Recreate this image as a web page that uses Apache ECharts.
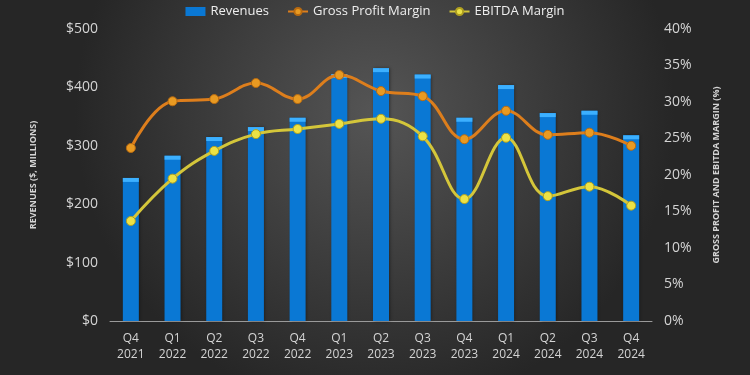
<!DOCTYPE html>
<html>
<head>
<meta charset="utf-8">
<script src="https://cdn.jsdelivr.net/npm/echarts@6/dist/echarts.min.js"></script>
<style>
  html, body { margin: 0; padding: 0; background: #333; }
  #chart { width: 750px; height: 375px; }
</style>
</head>
<body>
<div id="chart"></div>
<script>
const quarters = ['Q4\n2021', 'Q1\n2022', 'Q2\n2022', 'Q3\n2022', 'Q4\n2022', 'Q1\n2023', 'Q2\n2023',
  'Q3\n2023', 'Q4\n2023', 'Q1\n2024', 'Q2\n2024', 'Q3\n2024', 'Q4\n2024'];
const revenues = [245, 283, 315, 332, 348, 423, 433, 422, 348, 404, 356, 360, 318];
const grossMargin = [23.7, 30.1, 30.4, 32.6, 30.4, 33.7, 31.5, 30.8, 24.9, 28.8, 25.5, 25.8, 24.0];
const ebitdaMargin = [13.7, 19.5, 23.3, 25.6, 26.3, 27.0, 27.7, 25.3, 16.7, 25.1, 17.1, 18.4, 15.8];

const chart = echarts.init(document.getElementById('chart'));

const labelColor = '#d4d4d4';

chart.setOption({
  animation: false,
  backgroundColor: {
    type: 'radial', x: 0.5, y: 0.3, r: 0.8,
    colorStops: [
      { offset: 0, color: '#555555' },
      { offset: 1, color: '#262626' }
    ]
  },
  textStyle: { fontFamily: 'Open Sans' },
  legend: {
    top: 0,
    left: 'center',
    itemWidth: 20,
    itemHeight: 9,
    itemGap: 18,
    textStyle: { color: '#eeeeee', fontSize: 13, fontFamily: 'Open Sans' },
    data: [
      { name: 'Revenues', icon: 'rect' },
      'Gross Profit Margin',
      'EBITDA Margin'
    ]
  },
  grid: { left: 110, right: 98, top: 29, bottom: 54 },
  xAxis: {
    type: 'category',
    data: quarters,
    axisLine: { lineStyle: { color: '#9a9a9a', width: 1 } },
    axisTick: { show: false },
    axisLabel: { color: labelColor, fontSize: 12, lineHeight: 16, margin: 10 }
  },
  yAxis: [
    {
      type: 'value',
      min: 0, max: 500, interval: 100,
      name: 'REVENUES ($, MILLIONS)',
      nameLocation: 'middle',
      nameGap: 72,
      nameTextStyle: { color: labelColor, fontSize: 9, fontWeight: 'bold' },
      splitLine: { show: false },
      axisLine: { show: false },
      axisTick: { show: false },
      axisLabel: { color: labelColor, fontSize: 14, margin: 12, formatter: v => '$' + v }
    },
    {
      type: 'value',
      min: 0, max: 40, interval: 5,
      name: 'GROSS PROFIT AND EBITDA MARGIN (%)',
      nameLocation: 'middle',
      nameGap: 60,
      nameRotate: 90,
      nameTextStyle: { color: labelColor, fontSize: 9, fontWeight: 'bold' },
      splitLine: { show: false },
      axisLine: { show: false },
      axisTick: { show: false },
      axisLabel: { color: labelColor, fontSize: 14, margin: 12, formatter: v => v + '%' }
    }
  ],
  series: [
    {
      name: 'Revenues',
      type: 'bar',
      data: revenues,
      barWidth: 16,
      itemStyle: { color: '#0a78d4', shadowColor: 'rgba(0,0,0,0.4)', shadowBlur: 3, shadowOffsetX: 1 },
      z: 2
    },
    {
      name: 'Revenues cap',
      type: 'pictorialBar',
      data: revenues,
      symbol: 'rect',
      symbolSize: [16, 4],
      symbolPosition: 'end',
      symbolOffset: [0, 0],
      itemStyle: { color: '#3cb0ff' },
      legendHoverLink: false,
      z: 3
    },
    {
      name: 'Gross Profit Margin',
      type: 'line',
      yAxisIndex: 1,
      data: grossMargin,
      smooth: 0.4,
      symbol: 'circle',
      symbolSize: 9,
      lineStyle: { color: '#dd7e1c', width: 3 },
      itemStyle: { color: '#e89a22', borderColor: '#b86a10', borderWidth: 1 },
      z: 5
    },
    {
      name: 'EBITDA Margin',
      type: 'line',
      yAxisIndex: 1,
      data: ebitdaMargin,
      smooth: 0.4,
      symbol: 'circle',
      symbolSize: 9,
      lineStyle: { color: '#d4c63a', width: 3 },
      itemStyle: { color: '#ece246', borderColor: '#b0a020', borderWidth: 1 },
      z: 4
    }
  ]
});
</script>
</body>
</html>
